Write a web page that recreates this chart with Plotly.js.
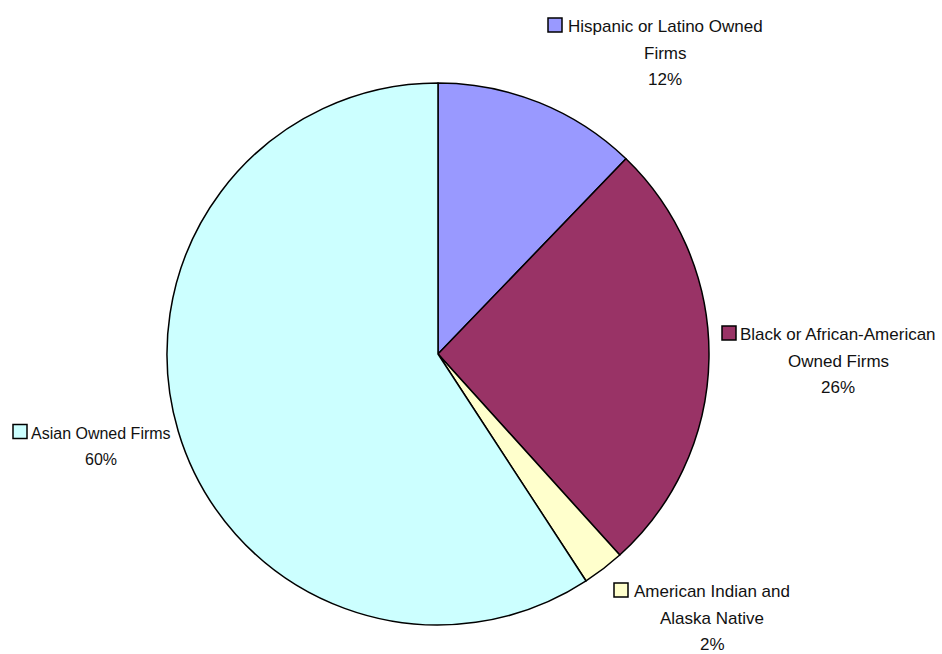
<!DOCTYPE html>
<html>
<head>
<meta charset="utf-8">
<script src="https://cdn.plot.ly/plotly-3.0.1.min.js"></script>
<style>html,body{margin:0;padding:0;background:#fff;}#chart{width:942px;height:654px;}</style>
</head>
<body>
<div id="chart"></div>
<script>
// Data
const categories = ["Hispanic or Latino Owned Firms", "Black or African-American Owned Firms", "American Indian and Alaska Native", "Asian Owned Firms"];
const labelLines = [["Hispanic or Latino Owned", "Firms"], ["Black or African-American", "Owned Firms"], ["American Indian and", "Alaska Native"], ["Asian Owned Firms"]];
const values = [12.2, 26.1, 2.5, 59.2];
const percentLabels = ["12%", "26%", "2%", "60%"];
const colors = ["#9999FF", "#993366", "#FFFFCC", "#CCFFFF"];

// Label layout (pixel positions in 942x654 canvas): text center x, first-line cap-center y, key x, font size
const W = 942, H = 654;
const labelPos = [
  {cx: 665, y1: 25, kx: 548, fs: 17},
  {cx: 838, y1: 333, kx: 722, fs: 17},
  {cx: 712, y1: 590, kx: 614, fs: 17},
  {cx: 101, y1: 431.5, kx: 13, fs: 16}
];
const lineH = 26.7;
const fontFam = '"Liberation Sans", Arial, sans-serif';

const annotations = [];
const shapes = [];
categories.forEach((c, i) => {
  const lines = labelLines[i].concat([percentLabels[i]]);
  const p = labelPos[i];
  lines.forEach((t, j) => {
    annotations.push({
      xref: 'paper', yref: 'paper',
      x: p.cx / W, y: 1 - (p.y1 + 1.5 + j * lineH) / H,
      xanchor: 'center', yanchor: 'middle',
      text: t, showarrow: false,
      font: {family: fontFam, size: p.fs, color: '#111'}
    });
  });
  const s = 14;
  shapes.push({
    type: 'rect', xref: 'paper', yref: 'paper',
    x0: p.kx / W, x1: (p.kx + s) / W,
    y0: 1 - (p.y1 - s / 2) / H, y1: 1 - (p.y1 + s / 2) / H,
    fillcolor: colors[i], line: {color: '#000', width: 1.5}
  });
});

const trace = {
  type: 'pie',
  labels: categories,
  values: values,
  sort: false,
  direction: 'clockwise',
  rotation: 0,
  textinfo: 'none',
  hoverinfo: 'label+percent',
  marker: {colors: colors, line: {color: '#000', width: 1.5}},
  domain: {x: [167 / W, 709 / W], y: [(H - 625) / H, (H - 83) / H]},
  showlegend: false
};

const layout = {
  width: W, height: H,
  margin: {l: 0, r: 0, t: 0, b: 0},
  paper_bgcolor: '#fff',
  showlegend: false,
  annotations: annotations,
  shapes: shapes
};

Plotly.newPlot('chart', [trace], layout, {displayModeBar: false, staticPlot: true});
</script>
</body>
</html>
